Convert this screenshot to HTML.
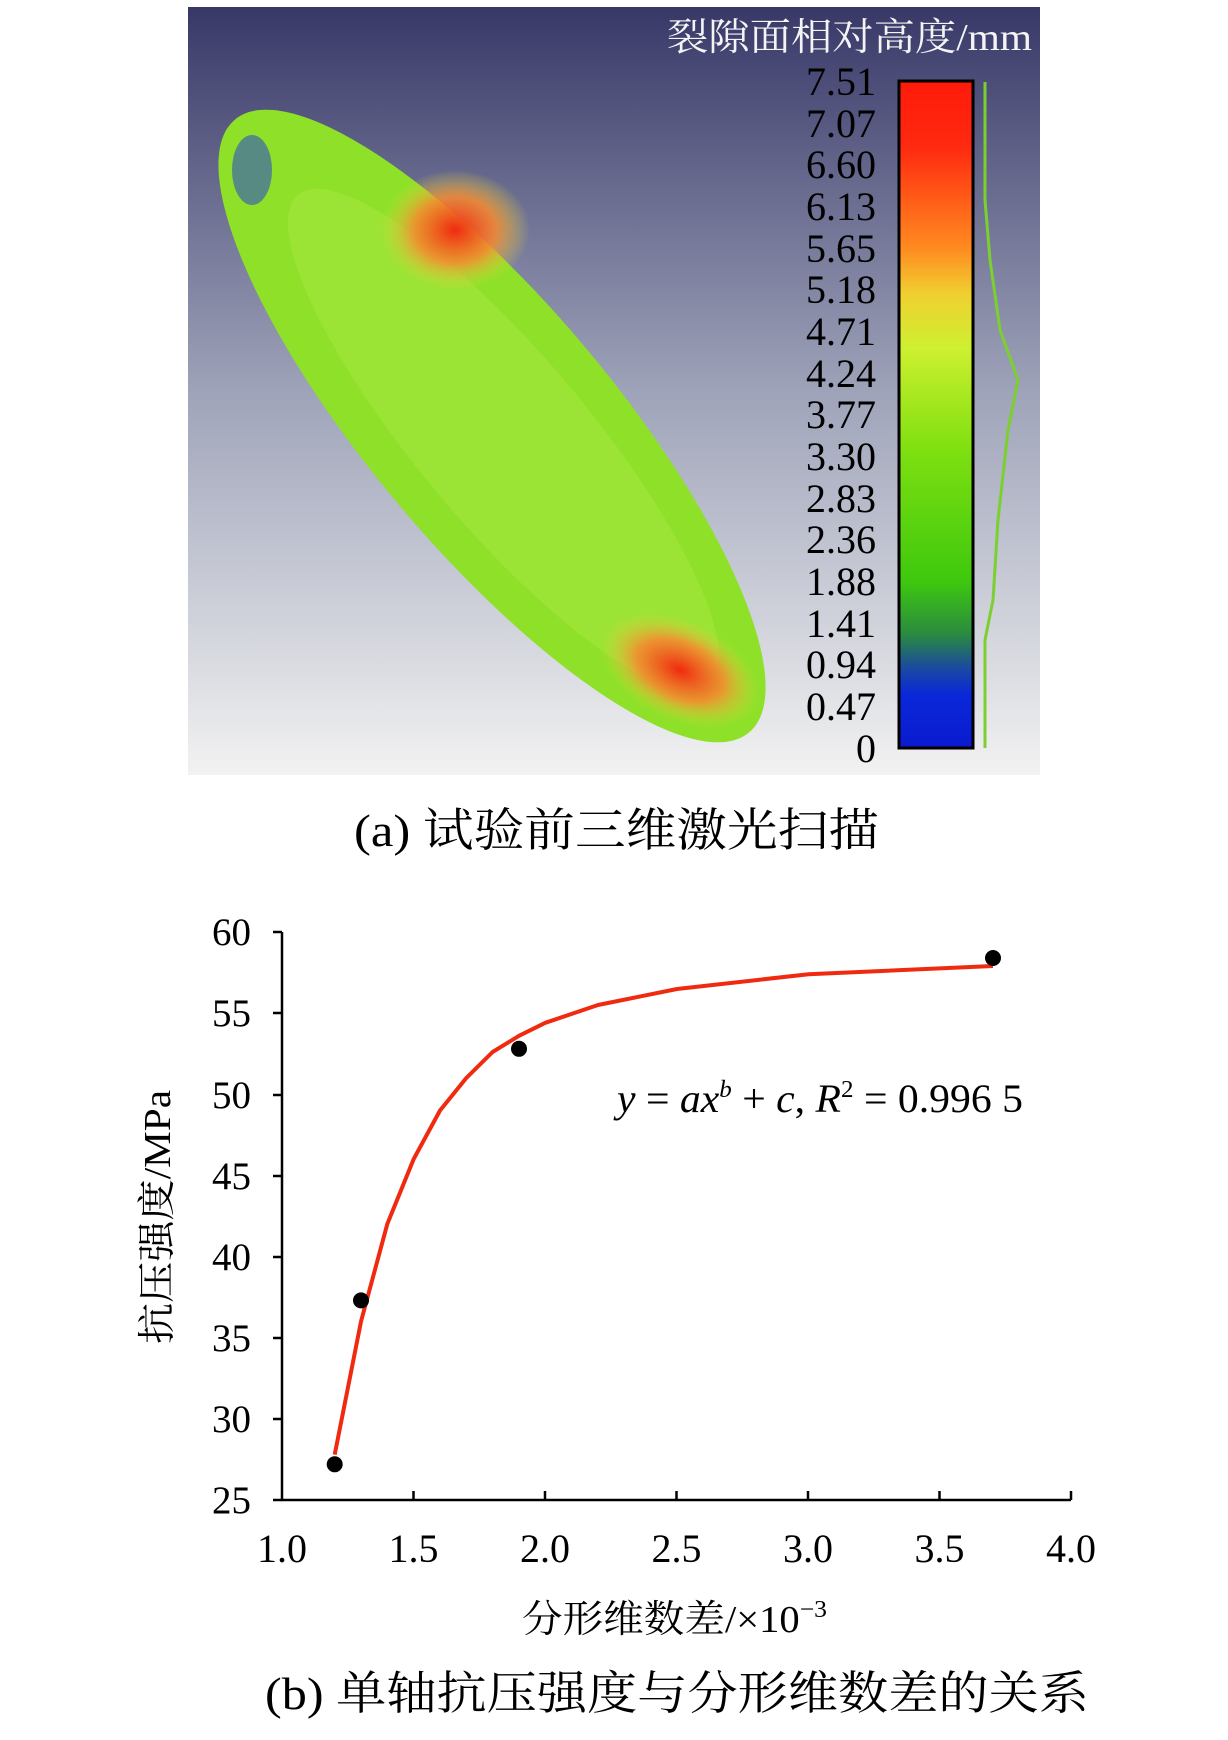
<!DOCTYPE html>
<html><head><meta charset="utf-8"><style>
body{margin:0;width:1228px;height:1735px;background:#fff;overflow:hidden}
svg text{font-family:"Liberation Serif","Noto Serif CJK SC",serif}
</style></head><body>
<svg width="1228" height="1735" viewBox="0 0 1228 1735" xmlns="http://www.w3.org/2000/svg">
<defs>
<linearGradient id="bg" x1="0" y1="0" x2="0" y2="1">
<stop offset="0" stop-color="#383868"/><stop offset="0.5" stop-color="#9ea3b9"/><stop offset="1" stop-color="#f2f2f2"/></linearGradient>
<linearGradient id="cb" x1="0" y1="0" x2="0" y2="1">
<stop offset="0" stop-color="#ff1a0a"/><stop offset="0.1" stop-color="#ff2a10"/><stop offset="0.25" stop-color="#ff8a20"/><stop offset="0.32" stop-color="#f0d030"/><stop offset="0.4" stop-color="#cef030"/><stop offset="0.55" stop-color="#80e010"/><stop offset="0.75" stop-color="#3ec80e"/><stop offset="0.83" stop-color="#2a8a40"/><stop offset="0.88" stop-color="#1a4aa0"/><stop offset="0.92" stop-color="#0a28d8"/><stop offset="1" stop-color="#0a1ad0"/></linearGradient>
<radialGradient id="hot1" cx="0.5" cy="0.5" r="0.5"><stop offset="0" stop-color="#f02a10"/><stop offset="0.55" stop-color="#f88a30" stop-opacity="0.85"/><stop offset="1" stop-color="#e0e040" stop-opacity="0"/></radialGradient>
</defs>
<rect x="188" y="7" width="852" height="768" fill="url(#bg)"/>
<g transform="rotate(50 492 426)">
<ellipse cx="492" cy="426" rx="400" ry="122" fill="#8ee028"/>
<ellipse cx="510" cy="426" rx="320" ry="85" fill="#a8e640" opacity="0.5"/>
</g>
<ellipse cx="455" cy="230" rx="75" ry="60" fill="url(#hot1)"/>
<ellipse cx="680" cy="670" rx="85" ry="50" fill="url(#hot1)" transform="rotate(25 680 670)"/>
<ellipse cx="252" cy="170" rx="20" ry="35" fill="#3050c0" opacity="0.6"/>
<text x="667" y="50" font-size="38" fill="#f4f4f4" textLength="365" lengthAdjust="spacingAndGlyphs">裂隙面相对高度/mm</text>
<rect x="899" y="81" width="74" height="667" fill="url(#cb)" stroke="#000" stroke-width="3"/>
<path d="M985 82 L985 200 L990 260 L1000 330 L1018 380 L1008 430 L998 520 L993 600 L985 640 L985 748" fill="none" stroke="#7bd030" stroke-width="3"/>
<g font-size="40" fill="#000" text-anchor="end">
<text x="876" y="95">7.51</text><text x="876" y="137">7.07</text><text x="876" y="178">6.60</text><text x="876" y="220">6.13</text><text x="876" y="262">5.65</text><text x="876" y="303">5.18</text><text x="876" y="345">4.71</text><text x="876" y="387">4.24</text><text x="876" y="428">3.77</text><text x="876" y="470">3.30</text><text x="876" y="512">2.83</text><text x="876" y="553">2.36</text><text x="876" y="595">1.88</text><text x="876" y="637">1.41</text><text x="876" y="678">0.94</text><text x="876" y="720">0.47</text><text x="876" y="762">0</text>
</g>
<text x="354" y="846" font-size="46" textLength="525" lengthAdjust="spacingAndGlyphs">(a) 试验前三维激光扫描</text>
<g stroke="#000" stroke-width="2.5" fill="none">
<path d="M282 932 L282 1500 L1071 1500"/>
<path d="M282 932h-9M282 1013h-9M282 1095h-9M282 1176h-9M282 1257h-9M282 1338h-9M282 1419h-9M282 1500h-9"/>
<path d="M413.5 1500v-9M545 1500v-9M676.5 1500v-9M808 1500v-9M939.5 1500v-9M1071 1500v-9"/>
</g>
<g font-size="39" text-anchor="end">
<text x="251" y="945">60</text><text x="251" y="1026">55</text><text x="251" y="1108">50</text><text x="251" y="1189">45</text><text x="251" y="1270">40</text><text x="251" y="1351">35</text><text x="251" y="1432">30</text><text x="251" y="1513">25</text>
</g>
<g font-size="40" text-anchor="middle">
<text x="282" y="1562">1.0</text><text x="413.5" y="1562">1.5</text><text x="545" y="1562">2.0</text><text x="676.5" y="1562">2.5</text><text x="808" y="1562">3.0</text><text x="939.5" y="1562">3.5</text><text x="1071" y="1562">4.0</text>
</g>
<polyline points="334.7,1454.6 361,1321.5 387.3,1224 413.7,1159 440,1110.5 466.3,1078 492.6,1052 519,1035.8 545.3,1022.8 598,1005 677,989 808.6,974.2 993,966" fill="none" stroke="#f02a10" stroke-width="4" stroke-linejoin="round"/>
<g fill="#000"><circle cx="334.7" cy="1464.3" r="8"/><circle cx="361" cy="1300.4" r="8"/><circle cx="519" cy="1048.8" r="8"/><circle cx="993" cy="958" r="8"/></g>
<text x="617" y="1112" font-size="40" textLength="406" lengthAdjust="spacingAndGlyphs"><tspan font-style="italic">y</tspan> = <tspan font-style="italic">ax</tspan><tspan font-style="italic" font-size="24" dy="-15">b</tspan><tspan dy="15"> + </tspan><tspan font-style="italic">c</tspan>, <tspan font-style="italic">R</tspan><tspan font-size="24" dy="-15">2</tspan><tspan dy="15"> = 0.996 5</tspan></text>
<text transform="translate(170 1217) rotate(-90)" font-size="38" text-anchor="middle" textLength="254" lengthAdjust="spacingAndGlyphs">抗压强度/MPa</text>
<text x="522" y="1632" font-size="38" textLength="305" lengthAdjust="spacingAndGlyphs">分形维数差/×10<tspan font-size="24" dy="-15">−3</tspan></text>
<text x="265" y="1709" font-size="46" textLength="824" lengthAdjust="spacingAndGlyphs">(b) 单轴抗压强度与分形维数差的关系</text>
</svg>
</body></html>
